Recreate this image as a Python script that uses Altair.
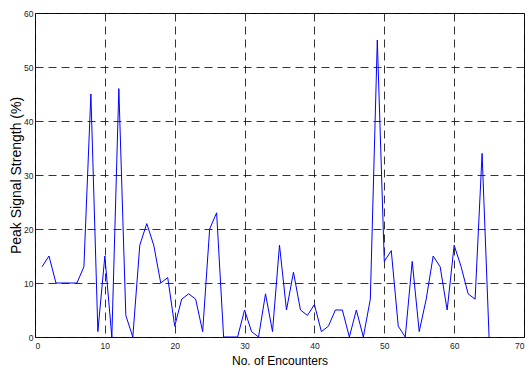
import altair as alt
import pandas as pd

encounters = list(range(1, 66))
strength = [13, 15, 10, 10, 10, 10, 13, 45, 1, 15,
            0, 46, 4, 0, 17, 21, 17, 10, 11, 2,
            7, 8, 7, 1, 20, 23, 0, 0, 0, 5,
            1, 0, 8, 1, 17, 5, 12, 5, 4, 6,
            1, 2, 5, 5, 0, 5, 0, 7, 55, 14,
            16, 2, 0, 14, 1, 7, 15, 13, 5, 17,
            13, 8, 7, 34, 0]
x_ticks = [0, 10, 20, 30, 40, 50, 60, 70]
y_ticks = [0, 10, 20, 30, 40, 50, 60]

df = pd.DataFrame({"enc": encounters, "val": strength})

chart = alt.Chart(df).mark_line(color="#0000ff", strokeWidth=1, clip=True).encode(
    x=alt.X("enc:Q", scale=alt.Scale(domain=[0, 70], nice=False),
            axis=alt.Axis(values=x_ticks, title="No. of Encounters", grid=True,
                          titleFontSize=12, titlePadding=6, labelPadding=4)),
    y=alt.Y("val:Q", scale=alt.Scale(domain=[0, 60], nice=False),
            axis=alt.Axis(values=y_ticks, title="Peak Signal Strength (%)", grid=True,
                          titleFontSize=14, titleX=-12, labelPadding=2)),
).properties(
    width=489, height=324,
    autosize=alt.AutoSizeParams(type="none"),
    padding={"left": 35, "top": 13, "right": 5, "bottom": 33},
).configure_view(
    stroke="black", strokeWidth=1
).configure_axis(
    domain=False, ticks=False,
    gridColor="#111111", gridDash=[8, 5], gridWidth=1, gridOpacity=0.85,
    labelFont="Liberation Sans", labelFontSize=8.5, labelColor="#222222",
    titleFont="Liberation Sans", titleFontWeight="normal", titleColor="black",
)

chart.save("out.html", embed_options={"renderer": "svg", "actions": False})
